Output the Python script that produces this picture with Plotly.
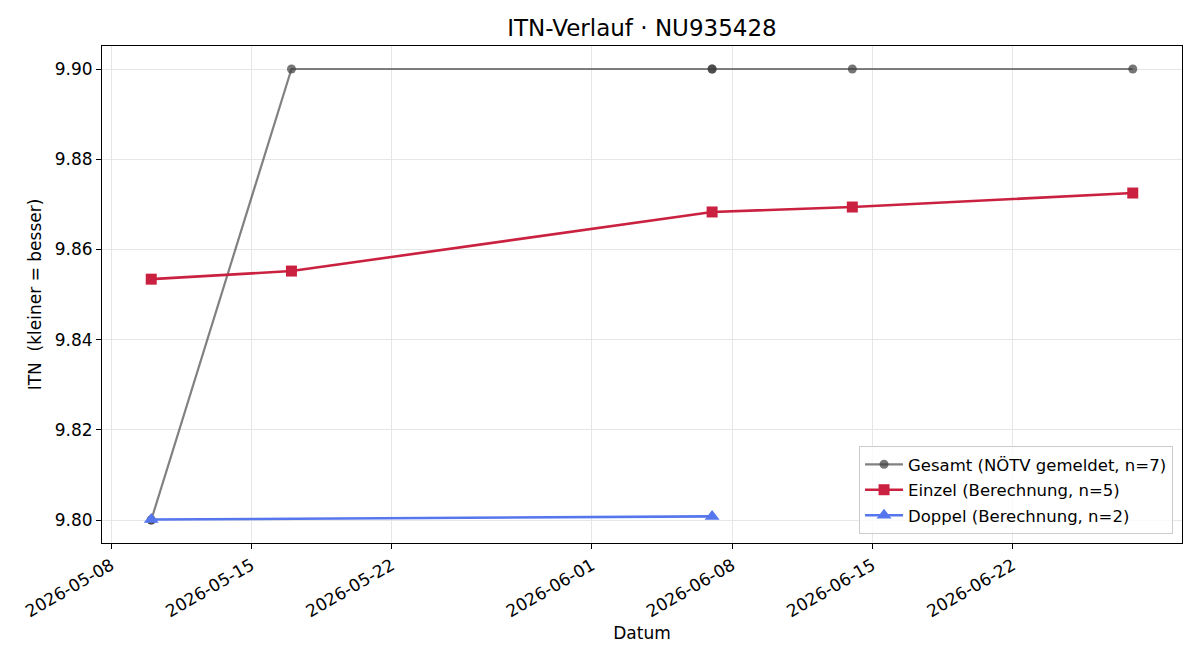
import plotly.graph_objects as go

# Data
gesamt_dates = ["2026-05-10", "2026-05-10", "2026-05-17", "2026-06-07", "2026-06-07", "2026-06-14", "2026-06-28"]
gesamt_itn = [9.80, 9.80, 9.90, 9.90, 9.90, 9.90, 9.90]
einzel_dates = ["2026-05-10", "2026-05-17", "2026-06-07", "2026-06-14", "2026-06-28"]
einzel_itn = [9.8534, 9.8552, 9.8683, 9.8694, 9.8725]
doppel_dates = ["2026-05-10", "2026-06-07"]
doppel_itn = [9.8001, 9.8008]

x_ticks = ["2026-05-08", "2026-05-15", "2026-05-22", "2026-06-01", "2026-06-08", "2026-06-15", "2026-06-22"]
y_ticks = [9.80, 9.82, 9.84, 9.86, 9.88, 9.90]

FONT = "DejaVu Sans, Liberation Sans, sans-serif"

fig = go.Figure()
fig.add_trace(go.Scatter(
    x=gesamt_dates, y=gesamt_itn, mode="lines+markers",
    name="Gesamt (NÖTV gemeldet, n=7)", legendgroup="g1",
    line=dict(color="rgba(70,70,70,0.68)", width=2.2),
    marker=dict(symbol="circle", size=9, color="rgba(60,60,60,0.7)"),
))
fig.add_trace(go.Scatter(
    x=einzel_dates, y=einzel_itn, mode="lines+markers",
    name="Einzel (Berechnung, n=5)", legendgroup="g2",
    line=dict(color="#cb2140", width=2.6),
    marker=dict(symbol="square", size=11, color="#cb2140"),
))
fig.add_trace(go.Scatter(
    x=doppel_dates, y=doppel_itn, mode="lines+markers",
    name="Doppel (Berechnung, n=2)", legendgroup="g3",
    line=dict(color="#5676ee", width=2.6),
    marker=dict(symbol="triangle-up", size=13, color="#5676ee"),
))

fig.update_layout(
    width=1200, height=660,
    paper_bgcolor="white", plot_bgcolor="white",
    margin=dict(l=102, r=18, t=46, b=117),
    font=dict(family=FONT, size=17, color="black"),
    title=dict(text="ITN-Verlauf · NU935428", xref="paper", x=0.5, xanchor="center",
               y=1 - 28 / 660, yanchor="middle", font=dict(size=23)),
    showlegend=True,
    legend=dict(x=0.9917, y=0.018, xanchor="right", yanchor="bottom",
                bgcolor="rgba(255,255,255,0.8)", bordercolor="#cccccc", borderwidth=1,
                font=dict(size=16.5), tracegroupgap=1, itemwidth=38),
)

fig.update_xaxes(
    type="date", range=["2026-05-07 13:00", "2026-06-30 11:00"],
    tickvals=x_ticks, ticktext=x_ticks, tickangle=-30,
    ticks="outside", ticklen=5, tickcolor="black",
    showline=True, linecolor="black", linewidth=1, mirror=True,
    showgrid=True, gridcolor="#e6e6e6", gridwidth=1, zeroline=False,
    tickfont=dict(size=17),
    title=dict(text="Datum", font=dict(size=17), standoff=6),
)
fig.update_yaxes(
    range=[9.7949, 9.9051],
    tickvals=y_ticks, ticktext=[f"{v:.2f}" for v in y_ticks],
    ticks="outside", ticklen=5, tickcolor="black",
    showline=True, linecolor="black", linewidth=1, mirror=True,
    showgrid=True, gridcolor="#e6e6e6", gridwidth=1, zeroline=False,
    tickfont=dict(size=17),
    title=dict(text="ITN\u00a0 (kleiner = besser)", font=dict(size=17), standoff=8),
)

fig.write_html("out.html")
